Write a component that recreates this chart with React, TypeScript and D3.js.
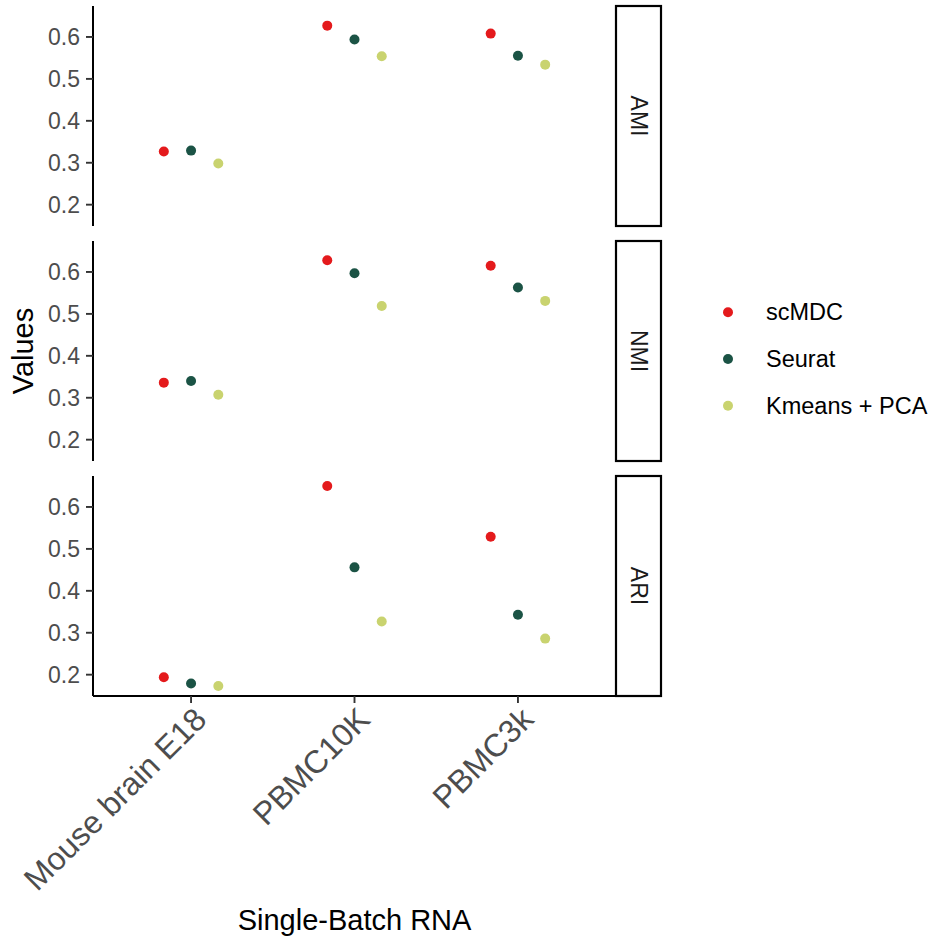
import React from "react";
import * as d3 from "d3";

// Datasets on the x axis
const datasets = ["Mouse brain E18", "PBMC10K", "PBMC3k"];
// Clustering metrics, one facet row each
const metrics = ["AMI", "NMI", "ARI"];
// Methods compared (dodged within each dataset)
const methods = ["scMDC", "Seurat", "Kmeans + PCA"];
const methodColors = ["#E41A1C", "#1B5345", "#C9D36F"];

// Scores per method, ordered as datasets
const amiScores = [
  [0.327, 0.627, 0.608],
  [0.329, 0.594, 0.555],
  [0.298, 0.554, 0.534],
];
const nmiScores = [
  [0.336, 0.628, 0.615],
  [0.340, 0.597, 0.563],
  [0.307, 0.519, 0.531],
];
const ariScores = [
  [0.194, 0.650, 0.529],
  [0.179, 0.456, 0.343],
  [0.173, 0.327, 0.286],
];
const scoresByMetric = [amiScores, nmiScores, ariScores];

const yTicks = [0.2, 0.3, 0.4, 0.5, 0.6];
const xTitle = "Single-Batch RNA";
const yTitle = "Values";

const W = 934;
const H = 943;
const FONT = "'Liberation Sans', Arial, Helvetica, sans-serif";

export default function App() {
  const left = 93;
  const right = 616;
  const panelTop = 6;
  const panelH = 220;
  const panelGap = 15;
  const stripW = 45;

  const all = scoresByMetric.flat(2);
  const [lo, hi] = d3.extent(all) as [number, number];
  const pad = (hi - lo) * 0.05;

  const x = d3
    .scalePoint<string>()
    .domain(datasets)
    .range([left, right])
    .padding(0.6);
  const step = x.step();
  const dodge = d3
    .scalePoint<string>()
    .domain(methods)
    .range([-step / 6, step / 6]);

  const panels = metrics.map((m, i) => {
    const top = panelTop + i * (panelH + panelGap);
    const y = d3
      .scaleLinear()
      .domain([lo - pad, hi + pad])
      .range([top + panelH, top]);
    return { m, i, top, y };
  });
  const bottom = panelTop + 3 * panelH + 2 * panelGap;

  return (
    <svg
      width={W}
      height={H}
      style={{ position: "absolute", left: 0, top: 0, background: "#fff" }}
      fontFamily={FONT}
    >
      <rect x={0} y={0} width={W} height={H} fill="#fff" />
      {panels.map(({ m, i, top, y }) => (
        <g key={m}>
          {/* y axis */}
          <line x1={left} x2={left} y1={top} y2={top + panelH} stroke="#000" strokeWidth={2} />
          {yTicks.map((t) => (
            <g key={t}>
              <line
                x1={left - 7}
                x2={left}
                y1={y(t)}
                y2={y(t)}
                stroke="#333"
                strokeWidth={1.9}
              />
              <text
                x={left - 13}
                y={y(t)}
                textAnchor="end"
                dominantBaseline="central"
                fontSize={23}
                fill="#4D4D4D"
              >
                {d3.format(".1f")(t)}
              </text>
            </g>
          ))}
          {/* points */}
          {methods.map((meth, k) =>
            datasets.map((ds, j) => (
              <circle
                key={meth + ds}
                cx={(x(ds) as number) + (dodge(meth) as number)}
                cy={y(scoresByMetric[i][k][j])}
                r={5}
                fill={methodColors[k]}
              />
            ))
          )}
          {/* facet strip */}
          <rect
            x={right}
            y={top}
            width={stripW}
            height={panelH}
            fill="#fff"
            stroke="#000"
            strokeWidth={2.2}
          />
          <text
            transform={`translate(${right + stripW / 2},${top + panelH / 2}) rotate(90)`}
            textAnchor="middle"
            dominantBaseline="central"
            fontSize={23}
            fill="#1A1A1A"
          >
            {m}
          </text>
        </g>
      ))}

      {/* x axis on the bottom panel */}
      <line x1={left} x2={right} y1={bottom} y2={bottom} stroke="#000" strokeWidth={2} />
      {datasets.map((ds) => (
        <g key={ds}>
          <line
            x1={x(ds)}
            x2={x(ds)}
            y1={bottom}
            y2={bottom + 7}
            stroke="#333"
            strokeWidth={1.9}
          />
          <text
            transform={`translate(${(x(ds) as number) + 1},${bottom + 9}) rotate(-45)`}
            textAnchor="end"
            dy="0.72em"
            fontSize={32}
            fill="#4D4D4D"
          >
            {ds}
          </text>
        </g>
      ))}

      {/* axis titles */}
      <text
        x={(left + right) / 2}
        y={930}
        textAnchor="middle"
        fontSize={29}
        fill="#000"
      >
        {xTitle}
      </text>
      <text
        transform={`translate(23,${(panelTop + bottom) / 2}) rotate(-90)`}
        textAnchor="middle"
        dominantBaseline="central"
        fontSize={29}
        fill="#000"
      >
        {yTitle}
      </text>

      {/* legend */}
      {methods.map((meth, k) => (
        <g key={meth} transform={`translate(728,${312.3 + k * 46.7})`}>
          <circle cx={0} cy={0} r={5} fill={methodColors[k]} />
          <text x={38} y={0} dominantBaseline="central" fontSize={23.5} fill="#000">
            {meth}
          </text>
        </g>
      ))}
    </svg>
  );
}
